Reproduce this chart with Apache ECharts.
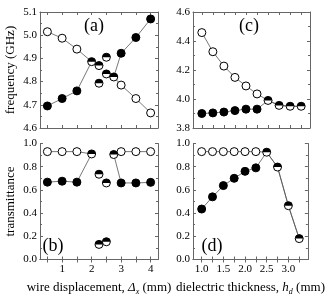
<!DOCTYPE html>
<html><head><meta charset="utf-8">
<script src="https://cdn.jsdelivr.net/npm/echarts@6/dist/echarts.min.js"></script>
<style>html,body{margin:0;padding:0;background:#fff}#c{width:327px;height:298px}</style>
</head><body><div id="c"></div>
<script>
// ---- data ----
// (a) frequency vs wire displacement
const dispX = [0.5, 1, 1.5, 2, 2.25, 2.5, 2.75, 3, 3.5, 4];
const freqA_up    = [5.015, 4.987, 4.94, 4.886, null, null, 4.82, 4.785, 4.727, 4.665];
const freqA_dn    = [4.695, 4.727, 4.76, 4.886, null, null, 4.82, 4.922, 4.99, 5.07];
const freqA_mid1  = [null, null, null, null, 4.869, 4.905, null, null, null, null];
const freqA_mid2  = [null, null, null, null, 4.793, 4.833, null, null, null, null];
const kindA_up = 'oooh--hooo';
const kindA_dn = 'fffh--hfff';
// (b) transmittance vs wire displacement
const transB_up   = [0.93, 0.93, 0.93, 0.91, null, null, 0.905, 0.93, 0.93, 0.93];
const transB_dn   = [0.667, 0.675, 0.667, 0.91, null, null, 0.905, 0.66, 0.66, 0.665];
const transB_mid1 = [null, null, null, null, 0.735, 0.66, null, null, null, null];
const transB_mid2 = [null, null, null, null, 0.13, 0.153, null, null, null, null];
const kindB_up = 'oooh--hooo';
const kindB_dn = 'fffh--hfff';
// (c) frequency vs dielectric thickness
const thickX = [1, 1.25, 1.5, 1.75, 2, 2.25, 2.5, 2.75, 3, 3.25];
const freqC_up = [4.458, 4.326, 4.227, 4.149, 4.09, 4.035, 3.99, 3.956, 3.95, 3.95];
const freqC_dn = [3.90, 3.904, 3.91, 3.92, 3.93, 3.93, 3.99, 3.956, 3.95, 3.95];
const kindC_up = 'oooooohhhh';
const kindC_dn = 'ffffffhhhh';
// (d) transmittance vs dielectric thickness
const transD_up = [0.93, 0.93, 0.93, 0.93, 0.93, 0.93, 0.925, 0.797, 0.464, 0.18];
const transD_dn = [0.435, 0.54, 0.637, 0.70, 0.76, 0.79, 0.925, 0.797, 0.464, 0.18];
const kindD_up = 'oooooohhhh';
const kindD_dn = 'ffffffhhhh';
// tick labels
const dispTicks = [1, 2, 3, 4];
const dispMinor = [0.5, 1, 1.5, 2, 2.5, 3, 3.5, 4];
const thickTicks = [1, 1.5, 2, 2.5, 3];
const thickMinor = [1, 1.25, 1.5, 1.75, 2, 2.25, 2.5, 2.75, 3, 3.25];

// ---- helpers ----
const FONT = 'Liberation Serif';
const LINE = '#555';
const AX = '#666';
function linePts(xs, ys) { return xs.map((x, i) => [x, ys[i] == null ? '-' : ys[i]]); }
function markPts(xs, ys, kinds, k) {
  const out = [];
  xs.forEach((x, i) => { if (ys[i] != null && (kinds == null ? k === 'h' : kinds[i] === k)) out.push([x, ys[i]]); });
  return out;
}
const SZ = 8;
const HALF = 'path://M0,5A5,5,0,0,1,10,5Z';

const grids = [
  { left: 40, top: 12, width: 118, height: 116 },
  { left: 40, top: 143.5, width: 118, height: 116 },
  { left: 193, top: 12, width: 117, height: 116 },
  { left: 193, top: 143.5, width: 117, height: 116 }
];
const xCfg = [
  { min: 0.25, max: 4.25, labels: dispTicks, ticks: dispMinor, show: false },
  { min: 0.25, max: 4.25, labels: dispTicks, ticks: dispMinor, show: true,
    name: 'wire displacement, {it|Δ}{sub|x} (mm)' },
  { min: 0.8, max: 3.45, labels: thickTicks, ticks: thickMinor, show: false },
  { min: 0.8, max: 3.45, labels: thickTicks, ticks: thickMinor, show: true,
    name: 'dielectric thickness, {it|h}{sub|d} (mm)' }
];
const yCfg = [
  { min: 4.6, max: 5.1, interval: 0.1, name: 'frequency (GHz)' },
  { min: 0, max: 1, interval: 0.2, name: 'transmittance' },
  { min: 3.8, max: 4.6, interval: 0.2 },
  { min: 0, max: 1, interval: 0.2 }
];
const rich = {
  it: { fontFamily: FONT, fontSize: 13, fontStyle: 'italic', color: '#000' },
  sub: { fontFamily: FONT, fontSize: 8, fontStyle: 'italic', color: '#000', padding: [7, 0, 0, 0] }
};

const xAxis = [], yAxis = [];
xCfg.forEach((c, i) => {
  xAxis.push({
    type: 'value', gridIndex: i, min: c.min, max: c.max, position: 'bottom',
    axisLine: { lineStyle: { color: AX, width: 1 } },
    axisTick: { inside: true, length: 3, customValues: c.ticks, lineStyle: { color: AX } },
    axisLabel: { show: c.show, customValues: c.labels, fontFamily: FONT, fontSize: 11, color: '#000', margin: 4,
      formatter: v => (i >= 2 ? Number(v).toFixed(1) : String(v)) },
    splitLine: { show: false },
    name: c.name || '', nameLocation: 'middle', nameGap: 21,
    nameTextStyle: { fontFamily: FONT, fontSize: 13, color: '#000', rich: rich }
  });
  xAxis.push({
    type: 'value', gridIndex: i, min: c.min, max: c.max, position: 'top',
    axisLine: { lineStyle: { color: AX, width: 1 } },
    axisTick: { inside: true, length: 3, customValues: c.ticks, lineStyle: { color: AX } },
    axisLabel: { show: false }, splitLine: { show: false }
  });
});
yCfg.forEach((c, i) => {
  yAxis.push({
    type: 'value', gridIndex: i, min: c.min, max: c.max, interval: c.interval, position: 'left',
    axisLine: { show: true, lineStyle: { color: AX, width: 1 } },
    axisTick: { show: true, inside: true, length: 3, lineStyle: { color: AX } },
    minorTick: { show: true, splitNumber: 2, length: 2, lineStyle: { color: AX } },
    axisLabel: { fontFamily: FONT, fontSize: 11, color: '#000', margin: 3, formatter: v => Number(v).toFixed(1) },
    splitLine: { show: false },
    name: c.name || '', nameLocation: 'middle', nameGap: 23,
    nameTextStyle: { fontFamily: FONT, fontSize: 13, color: '#000' }
  });
  yAxis.push({
    type: 'value', gridIndex: i, min: c.min, max: c.max, interval: c.interval, position: 'right',
    axisLine: { show: true, lineStyle: { color: AX, width: 1 } },
    axisTick: { show: true, inside: true, length: 3, lineStyle: { color: AX } },
    minorTick: { show: true, splitNumber: 2, length: 2, lineStyle: { color: AX } },
    axisLabel: { show: false }, splitLine: { show: false }
  });
});

const series = [];
function addPanel(p, xs, up, dn, kup, kdn, mids) {
  const xi = p * 2, yi = p * 2;
  [up, dn].forEach(ys => series.push({
    type: 'line', xAxisIndex: xi, yAxisIndex: yi, data: linePts(xs, ys),
    showSymbol: false, symbol: 'none', connectNulls: false, z: 2,
    lineStyle: { color: LINE, width: 0.8 }, silent: true, animation: false
  }));
  const open = markPts(xs, up, kup, 'o');
  const filled = markPts(xs, dn, kdn, 'f');
  let half = markPts(xs, up, kup, 'h');
  mids.forEach(m => { half = half.concat(markPts(xs, m, null, 'h')); });
  series.push({ type: 'scatter', xAxisIndex: xi, yAxisIndex: yi, data: open, symbol: 'circle', symbolSize: SZ, z: 3,
    itemStyle: { color: '#fff', borderColor: '#000', borderWidth: 1, opacity: 1 }, animation: false });
  series.push({ type: 'scatter', xAxisIndex: xi, yAxisIndex: yi, data: filled, symbol: 'circle', symbolSize: SZ, z: 3,
    itemStyle: { color: '#000', borderColor: '#000', borderWidth: 1, opacity: 1 }, animation: false });
  series.push({ type: 'scatter', xAxisIndex: xi, yAxisIndex: yi, data: half, symbol: 'circle', symbolSize: SZ, z: 3,
    itemStyle: { color: '#fff', borderColor: '#000', borderWidth: 1, opacity: 1 }, animation: false });
  series.push({ type: 'scatter', xAxisIndex: xi, yAxisIndex: yi, data: half, symbol: HALF, symbolSize: [SZ, SZ / 2],
    symbolOffset: [0, -SZ / 4], symbolKeepAspect: false, z: 4,
    itemStyle: { color: '#000', borderWidth: 0, opacity: 1 }, animation: false });
}
addPanel(0, dispX, freqA_up, freqA_dn, kindA_up, kindA_dn, [freqA_mid1, freqA_mid2]);
addPanel(1, dispX, transB_up, transB_dn, kindB_up, kindB_dn, [transB_mid1, transB_mid2]);
addPanel(2, thickX, freqC_up, freqC_dn, kindC_up, kindC_dn, []);
addPanel(3, thickX, transD_up, transD_dn, kindD_up, kindD_dn, []);

const panelLabels = ['(a)', '(b)', '(c)', '(d)'];
const labelPos = [[94, 26], [53, 246], [249, 26], [212, 246]];
const graphic = panelLabels.map((t, i) => ({
  type: 'text', x: labelPos[i][0], y: labelPos[i][1], z: 10,
  style: { text: t, fontFamily: FONT, fontSize: 18, fill: '#000', align: 'center', verticalAlign: 'middle' }
}));

const chart = echarts.init(document.getElementById('c'), null, { renderer: 'canvas' });
chart.setOption({
  animation: false,
  backgroundColor: '#fff',
  grid: grids,
  xAxis: xAxis,
  yAxis: yAxis,
  series: series,
  graphic: graphic
});
</script></body></html>
